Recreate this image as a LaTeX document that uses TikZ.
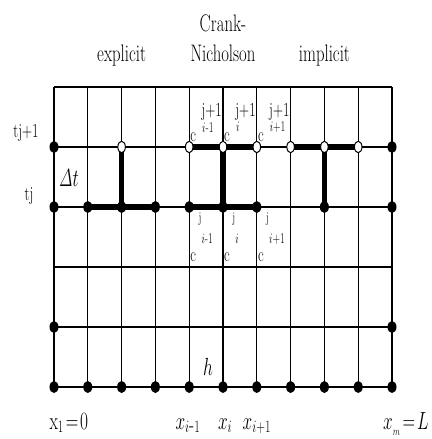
\documentclass[tikz,border=0pt]{standalone}
\usetikzlibrary{shapes.geometric}
\newcommand{\schmal}[1]{\scalebox{0.7}[1]{#1}}
\begin{document}
\begin{tikzpicture}[x=33.8bp, y=60bp,
    gitter/.style={line width=1.2bp},
    dick/.style={line width=5.5bp},
    punkt/.style={ellipse, fill=black, minimum width=9bp, minimum height=12bp, inner sep=0pt},
    kreis/.style={ellipse, draw=black, fill=white, line width=1bp, minimum width=7.5bp, minimum height=11.5bp, inner sep=0pt},
    titel/.style={font=\fontsize{24}{30}\selectfont, align=center, inner sep=0pt},
    zeit/.style={font=\fontsize{20}{24}\selectfont, inner sep=0pt},
    gross/.style={font=\fontsize{26}{30}\selectfont, inner sep=0pt},
    klein/.style={font=\fontsize{20}{22}\selectfont, inner sep=0pt},
    mini/.style={font=\fontsize{15}{17}\selectfont, inner sep=0pt},
    achse/.style={font=\fontsize{24}{28}\selectfont, inner sep=0pt}]

    \useasboundingbox (-54bp,-52bp) rectangle (378bp,387bp);

    % Gitterpunkte
    \foreach \i in {0,...,10} {
        \foreach \j in {0,...,5} {
            \coordinate (g-\i-\j) at (\i,\j);
        }
    }

    % Gitter
    \foreach \i in {0,...,10} {
        \draw[gitter] (g-\i-0) -- (g-\i-5);
    }
    \foreach \j in {0,...,5} {
        \draw[gitter] (g-0-\j) -- (g-10-\j);
    }

    % Sterne der Verfahren
    \draw[dick] (g-1-3) -- (g-3-3);
    \draw[dick] (g-2-3) -- (g-2-4);
    \draw[dick] (g-4-3) -- (g-6-3);
    \draw[dick] (g-4-4) -- (g-6-4);
    \draw[dick] (g-5-3) -- (g-5-4);
    \draw[dick] (g-7-4) -- (g-9-4);
    \draw[dick] (g-8-3) -- (g-8-4);

    % Punkte
    \foreach \i in {0,...,10} {
        \node[punkt] (p-\i-0) at (g-\i-0) {};
    }
    \foreach \i in {0,10} {
        \node[punkt] (p-\i-1) at (g-\i-1) {};
        \node[punkt] (p-\i-4) at (g-\i-4) {};
    }
    \foreach \i in {0,1,2,3,4,5,6,8,10} {
        \node[punkt] (p-\i-3) at (g-\i-3) {};
    }
    \foreach \i in {2,4,5,6,7,8,9} {
        \node[kreis] (p-\i-4) at (g-\i-4) {};
    }

    % Beschriftung der Verfahren
    \node[titel] (expl) at (2,5.53) {\schmal{explicit}};
    \node[titel] (cn) at (5,5.82) {\schmal{Crank-}\\\schmal{Nicholson}};
    \node[titel] (impl) at (8,5.53) {\schmal{implicit}};

    % Zeitschritte
    \node[zeit] (tj1) at (-0.83,4.23) {\schmal{tj+1}};
    \node[zeit] (tj) at (-0.74,3.18) {\schmal{tj}};
    \node[gross] (dt) at (0.44,3.48) {\schmal{$\mathit{\Delta} t$}};
    \node[gross] (h) at (4.56,0.33) {\schmal{$h$}};

    % Werte c an den Knoten
    \foreach \k/\s in {4/{$i$-1}, 5/{$i$}, 6/{$i$+1}} {
        \node[klein] (co-\k) at (\k+0.12,4.17) {\schmal{c}};
        \node[klein, anchor=west] (jo-\k) at (\k+0.36,4.58) {\schmal{j+1}};
        \node[mini, anchor=west] (io-\k) at (\k+0.38,4.33) {\schmal{\s}};
        \node[klein] (cu-\k) at (\k+0.12,2.17) {\schmal{c}};
        \node[mini] (ju-\k) at (\k+0.32,2.8) {\schmal{j}};
        \node[mini, anchor=west] (iu-\k) at (\k+0.36,2.47) {\schmal{\s}};
    }

    % Ortsachse
    \node[achse, anchor=base] (x1) at (0.44,-0.7) {\schmal{$\mathrm{x}_1\!=\!0$}};
    \node[achse, anchor=base] (xim) at (3.96,-0.7) {\schmal{$x_{i\mbox{-}1}$}};
    \node[achse, anchor=base] (xi) at (5.06,-0.7) {\schmal{$x_i$}};
    \node[achse, anchor=base] (xip) at (6,-0.7) {\schmal{$x_{i+1}$}};
    \node[achse, anchor=base] (xm) at (10.41,-0.7) {\schmal{$x_{_m}\!=\!L$}};

\end{tikzpicture}
\end{document}
